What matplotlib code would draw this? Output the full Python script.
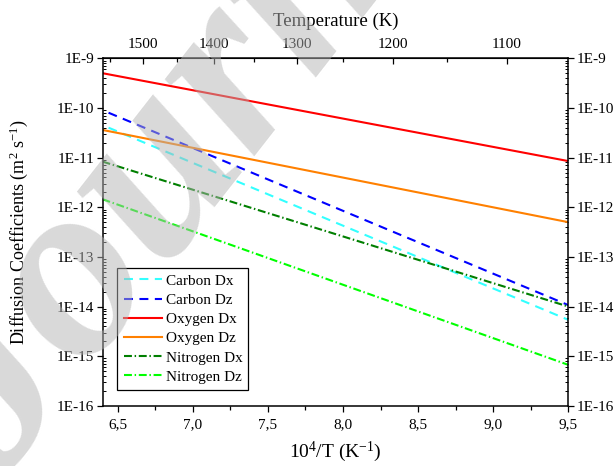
import numpy as np
import matplotlib
matplotlib.use("Agg")
import matplotlib.pyplot as plt
from matplotlib.ticker import LogLocator, FixedLocator, FuncFormatter, NullFormatter

plt.rcParams['font.family'] = ['Liberation Serif', 'DejaVu Serif']
plt.rcParams['mathtext.fontset'] = 'custom'
plt.rcParams['mathtext.rm'] = 'Liberation Serif'
plt.rcParams['mathtext.it'] = 'Liberation Serif:italic'

# Arrhenius lines: D at both ends of the 10^4/T range
x_ends = [6.4, 9.5]
x_ends_carbon = [6.44, 9.5]
carbon_dx = [4.0e-11, 5.4e-15]
carbon_dz = [8.0e-11, 1.07e-14]
oxygen_dx = [5.0e-10, 8.5e-12]
oxygen_dz = [3.6e-11, 5.0e-13]
nitrogen_dx = [8.3e-12, 1.0e-14]
nitrogen_dz = [1.45e-12, 6.7e-16]

x_ticks = [6.5, 7.0, 7.5, 8.0, 8.5, 9.0, 9.5]
temp_ticks = [1500, 1400, 1300, 1200, 1100]
temp_minor = [1550, 1450, 1350, 1250, 1150, 1050]

fig = plt.figure(figsize=(6.14, 4.66), dpi=100)
ax = fig.add_axes([0.167, 0.129, 0.7586, 0.746])

lw = 1.5
dash = (0, (4.3, 3.1))
dashdot = (0, (3.8, 1.3, 0.7, 1.3))
ax.plot(x_ends_carbon, carbon_dx, color='#33ffff', lw=lw, ls=dash, label='Carbon Dx')
ax.plot(x_ends_carbon, carbon_dz, color='#0000ff', lw=lw, ls=dash, label='Carbon Dz')
ax.plot(x_ends, oxygen_dx, color='#ff0000', lw=lw, label='Oxygen Dx')
ax.plot(x_ends, oxygen_dz, color='#ff8000', lw=lw, label='Oxygen Dz')
ax.plot(x_ends, nitrogen_dx, color='#007f00', lw=lw, ls=dashdot, label='Nitrogen Dx')
ax.plot(x_ends, nitrogen_dz, color='#00ff00', lw=lw, ls=dashdot, label='Nitrogen Dz')

ax.set_yscale('log')
ax.set_xlim(6.4, 9.5)
ax.set_ylim(1e-16, 1e-9)

ax.xaxis.set_major_locator(FixedLocator(x_ticks))
ax.xaxis.set_minor_locator(FixedLocator([6.75, 7.25, 7.75, 8.25, 8.75, 9.25]))
ax.xaxis.set_major_formatter(FuncFormatter(lambda v, p: f"{v:.1f}".replace('.', ',')))
ax.yaxis.set_major_locator(LogLocator(base=10, numticks=20))
ax.yaxis.set_minor_locator(LogLocator(base=10, subs=np.arange(2, 10), numticks=20))
ax.yaxis.set_major_formatter(FuncFormatter(lambda v, p: f"1E{int(round(np.log10(v)))}"))
ax.yaxis.set_minor_formatter(NullFormatter())

ax.tick_params(axis='x', which='major', direction='out', length=4, width=0.9, labelsize=11, pad=5)
ax.tick_params(axis='x', which='minor', direction='out', length=3, width=0.9)
ax.tick_params(axis='y', which='major', direction='out', length=4, width=0.9, labelsize=11,
               right=True, labelright=True, pad=2)
ax.tick_params(axis='y', which='minor', direction='in', length=2.5, width=0.7, right=True)
for s in ax.spines.values():
    s.set_linewidth(1.1)

# temperature scale on top
top = ax.secondary_xaxis('top', functions=(lambda x: 1e4 / x, lambda t: 1e4 / t))
top.xaxis.set_major_locator(FixedLocator(temp_ticks))
top.xaxis.set_minor_locator(FixedLocator(temp_minor))
top.tick_params(which='major', direction='in', length=4, width=0.9, labelsize=11, pad=5)
top.tick_params(which='minor', direction='in', length=3, width=0.9)
top.set_xlabel('Temperature (K)', fontsize=13.5, labelpad=9)

ax.set_xlabel('10$^{4}$/T (K$^{-1}$)', fontsize=14, labelpad=6)
ax.set_ylabel('Diffusion Coefficients (m$^{2}$ s$^{-1}$)', fontsize=13)
ax.yaxis.set_label_coords(-0.155, 0.5)

leg = ax.legend(loc='lower left', bbox_to_anchor=(0.032, 0.046), fontsize=11, frameon=True,
                fancybox=False, edgecolor='black', framealpha=1, borderpad=0.4,
                handlelength=2.5, handletextpad=0.25, labelspacing=0.36, borderaxespad=0)
leg.get_frame().set_linewidth(0.9)

# faint watermark over the figure
fig.text(0.01, -0.02, 'Journal Pre-proof', rotation=52, rotation_mode='anchor',
         ha='left', va='baseline', fontsize=185, style='italic', weight='bold',
         color='#b4b4b4', alpha=0.5, zorder=10)

fig.savefig('out.png', dpi=100)
